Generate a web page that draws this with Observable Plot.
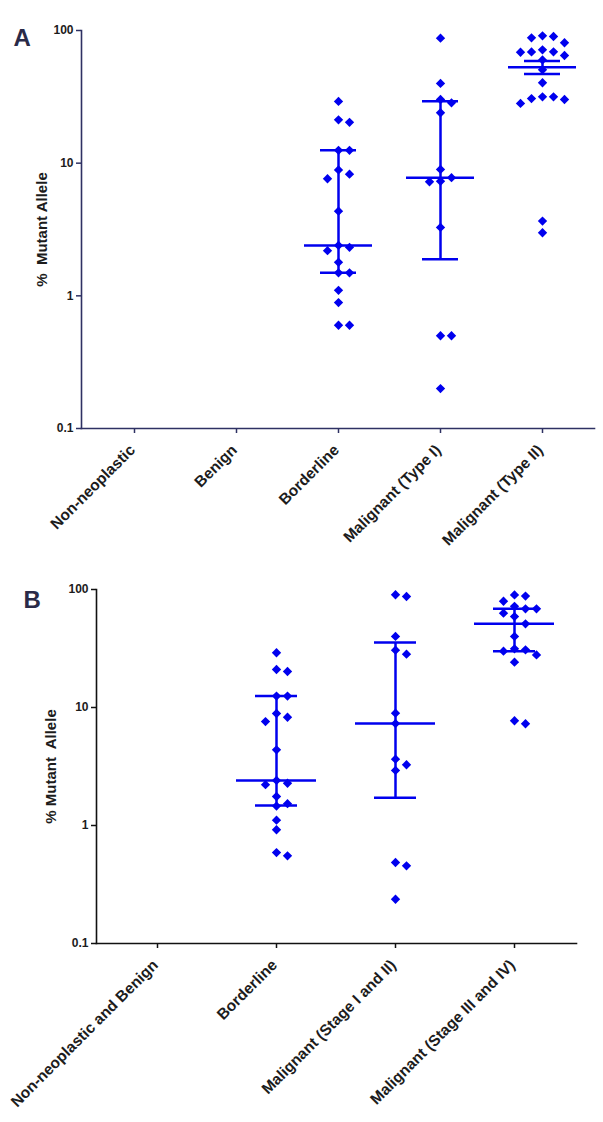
<!DOCTYPE html>
<html><head><meta charset="utf-8">
<script src="https://cdn.jsdelivr.net/npm/d3@7"></script>
<script src="https://cdn.jsdelivr.net/npm/@observablehq/plot@0.6"></script>
<style>
body{margin:0;background:#fff}
svg{display:block}
svg [aria-label="x-axis tick label"]{font-size:15.5px;font-weight:bold}
svg [aria-label="y-axis tick label"]{font-size:12px;font-weight:bold}
</style>
</head><body><div id="chart"></div>
<script>
// ---- Panel A data ----
const categoriesA = ["Non-neoplastic","Benign","Borderline","Malignant (Type I)","Malignant (Type II)"];
const borderlineA = [29.2,21.2,20.3,12.5,12.5,8.9,8.26,7.63,4.35,2.4,2.32,2.19,1.79,1.49,1.49,1.1,0.89,0.6,0.6];
const typeIA = [87.5,39.9,30.2,28.5,24,8.97,7.77,7.31,7.24,3.28,0.5,0.5,0.2];
const typeIIA = [91.2,90.1,88,80.8,71.5,69.1,69,68.6,64.8,60,50.6,40.4,31.6,31.6,30.7,30.2,28.2,3.66,2.99];
const centerA = [null,null,2.4,7.77,52.8];
const lowerA  = [null,null,1.49,1.89,47];
const upperA  = [null,null,12.5,29.3,58.8];

// ---- Panel B data ----
const categoriesB = ["Non-neoplastic and Benign","Borderline","Malignant (Stage I and II)","Malignant (Stage III and IV)"];
const borderlineB = [29.1,21,20.2,12.5,12.5,8.9,8.27,7.6,4.38,2.41,2.28,2.22,1.76,1.53,1.46,1.11,0.92,0.59,0.553];
const stageIandIIB = [90.2,87.2,40,30.6,28.3,8.95,7.31,3.65,3.27,2.93,0.486,0.455,0.237];
const stageIIIandIVB = [90,88,79.5,72,68.6,68.6,63,59,51.2,40,31.4,30.8,30,27.9,24.2,7.72,7.28];
const centerB = [null,2.41,7.31,51.2];
const lowerB  = [null,1.48,1.72,30];
const upperB  = [null,12.5,35.5,68.6];

const yTicks = [0.1,1,10,100];
const blue = "#0000ee";
const font = "'Liberation Sans', Arial, Helvetica, sans-serif";

// simple collision layout for the scatter columns
function layout(cat, values, pxPerDecade) {
  const sorted = [...values].sort((a,b)=>b-a);
  const slots = {};
  const order = [0,1,-1,2,-2,3,-3];
  return sorted.map(v => {
    const py = Math.log10(v)*pxPerDecade;
    let slot = order.find(s => !(slots[s]||[]).some(q => Math.abs(q-py) < 9.5));
    (slots[slot] = slots[slot]||[]).push(py);
    return {cat, value: v, slot};
  });
}

function panel(o) {
  const pxPerDecade = (o.height - o.marginTop - o.marginBottom)/3;
  const n = o.categories.length;
  const step = (o.lastCenter - o.firstCenter)/(n-1);
  const paddingInner = 1 - 2*o.medianHalf/step;
  const insetLeft = o.firstCenter - o.medianHalf - o.marginLeft;
  const insetRight = (603 - o.marginRight) - (o.lastCenter + o.medianHalf);
  const points = o.groups.flatMap(([cat, vals]) => layout(cat, vals, pxPerDecade));
  const stats = o.categories.map((c,i)=>({cat:c, center:o.center[i], lower:o.lower[i], upper:o.upper[i]})).filter(d=>d.center!=null);
  const caps = stats.flatMap(d=>[{cat:d.cat, v:d.lower},{cat:d.cat, v:d.upper}]);
  const slotVals = [...new Set(points.map(p=>p.slot))];
  const capInset = o.medianHalf - o.capHalf;
  return Plot.plot({
    width: 603, height: o.height,
    marginTop: o.marginTop, marginBottom: o.marginBottom, marginLeft: o.marginLeft, marginRight: o.marginRight,
    style: {fontFamily: font, background: "#fff"},
    x: {type: "band", domain: o.categories, paddingInner, paddingOuter: 0, insetLeft, insetRight},
    y: {type: "log", domain: [0.1, 100]},
    marks: [
      Plot.axisY({ticks: yTicks, tickFormat: d => String(d), tickSize: 5, tickPadding: 3, stroke: o.axisColor, strokeWidth: 1.5, fill: "#1c1c1c", fontSize: 12, fontWeight: "bold", label: null}),
      Plot.axisX({tickSize: 5, tickFormat: () => "", stroke: o.axisColor, strokeWidth: 1.5, label: null}),
      Plot.axisX({tickRotate: -45, tickSize: 0, tickPadding: 19, dx: -2, fill: "#1c1c1c", fontSize: 15.5, fontWeight: "bold", label: null}),
      Plot.frame({anchor: "left", stroke: o.axisColor, strokeWidth: 1.6}),
      Plot.frame({anchor: "bottom", stroke: o.axisColor, strokeWidth: 1.6}),
      Plot.ruleX(stats, {x: "cat", y1: "lower", y2: "upper", stroke: blue, strokeWidth: 2.5}),
      Plot.tickY(stats, {x: "cat", y: "center", stroke: blue, strokeWidth: 2.5}),
      Plot.tickY(caps, {x: "cat", y: "v", insetLeft: capInset, insetRight: capInset, stroke: blue, strokeWidth: 2.5}),
      ...slotVals.map(s => Plot.dot(points.filter(p=>p.slot===s), {x: "cat", y: "value", symbol: "diamond2", r: 4.2, fill: blue, stroke: "none", dx: s*11})),
      Plot.text([o.yLabel], {frameAnchor: "left", dx: o.labelDx, rotate: -90, textAnchor: "middle", fontSize: 15, fontWeight: "bold", fill: "#1c1c1c"}),
      Plot.text([o.letter], {frameAnchor: "top-left", dx: o.letterDx, dy: o.letterDy, textAnchor: "start", fontSize: 24, fontWeight: "bold", fill: "#2a2a48"})
    ]
  });
}

const chartA = panel({
  letter: "A", yLabel: "%\u00a0 Mutant Allele",
  categories: categoriesA,
  groups: [["Borderline", borderlineA], ["Malignant (Type I)", typeIA], ["Malignant (Type II)", typeIIA]],
  center: centerA, lower: lowerA, upper: upperA,
  height: 556, marginTop: 30, marginBottom: 128, marginLeft: 81, marginRight: 9,
  firstCenter: 134, lastCenter: 542, axisColor: "#2e3163",
  medianHalf: 34, capHalf: 18, labelDx: -39, letterDx: -68, letterDy: -2
});
const chartB = panel({
  letter: "B", yLabel: "% Mutant\u00a0 Allele",
  categories: categoriesB,
  groups: [["Borderline", borderlineB], ["Malignant (Stage I and II)", stageIandIIB], ["Malignant (Stage III and IV)", stageIIIandIVB]],
  center: centerB, lower: lowerB, upper: upperB,
  height: 566, marginTop: 33, marginBottom: 179, marginLeft: 96, marginRight: 27,
  firstCenter: 156, lastCenter: 515, axisColor: "#111111",
  medianHalf: 40, capHalf: 21, labelDx: -45, letterDx: -73, letterDy: 1.5
});
document.getElementById("chart").append(chartA, chartB);
</script>
</body></html>
